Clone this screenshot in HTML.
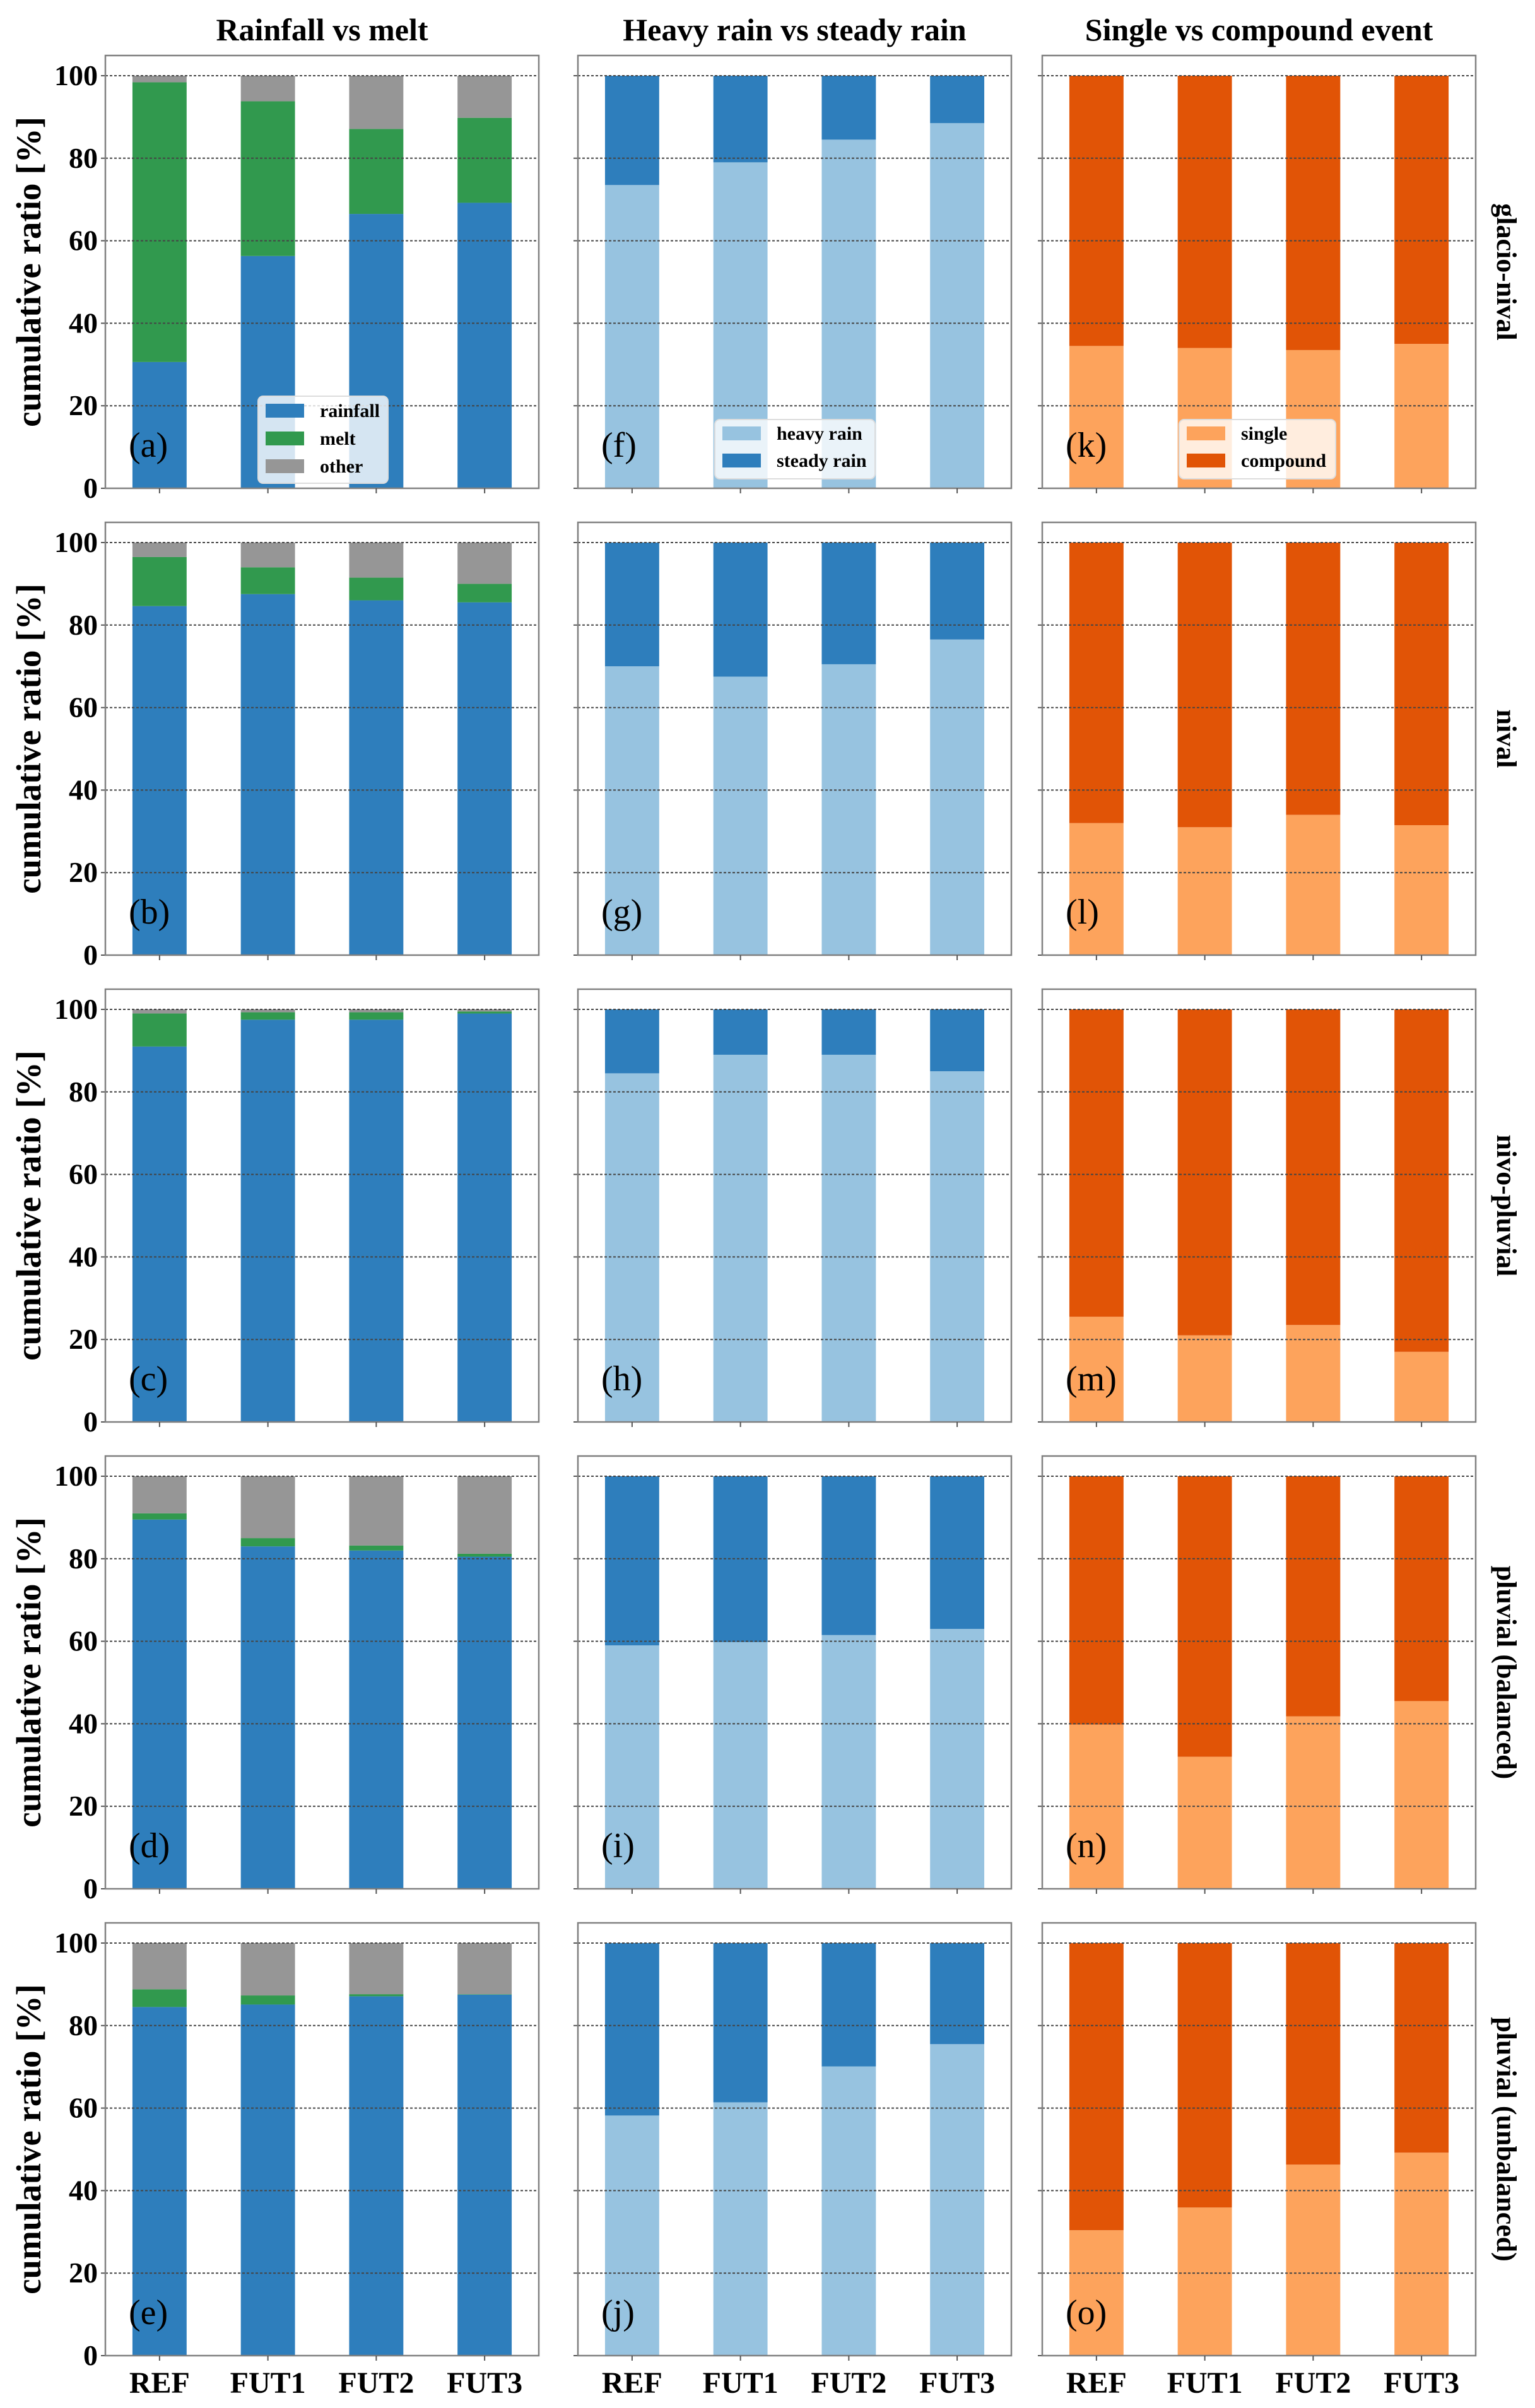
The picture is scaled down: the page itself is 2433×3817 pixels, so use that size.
<!DOCTYPE html>
<html><head><meta charset="utf-8">
<style>
html,body{margin:0;padding:0;background:#fff;}
svg{display:block;}
text{font-family:"Liberation Serif","DejaVu Serif",serif;}
</style></head>
<body>
<svg id="fig" xmlns="http://www.w3.org/2000/svg" width="2433" height="3817" viewBox="0 0 2433 3817" font-family="'Liberation Serif', 'DejaVu Serif', serif"></svg>
<script>
const categories = ["REF","FUT1","FUT2","FUT3"];
const yTicks = [0,20,40,60,80,100];
const columnTitles = ["Rainfall vs melt","Heavy rain vs steady rain","Single vs compound event"];
const rowLabels = ["glacio-nival","nival","nivo-pluvial","pluvial (balanced)","pluvial (unbalanced)"];
const panelLetters = [["(a)","(f)","(k)"],["(b)","(g)","(l)"],["(c)","(h)","(m)"],["(d)","(i)","(n)"],["(e)","(j)","(o)"]];
// column 1: rainfall share and rainfall+melt cumulative share
const rainfall = [[30.6,56.3,66.5,69.2],[84.6,87.5,86.0,85.5],[91.0,97.5,97.5,99.0],[89.5,83.0,82.0,80.5],[84.5,85.1,87.1,87.5]];
const rainMelt = [[98.4,93.8,87.1,89.8],[96.5,94.0,91.5,90.0],[99.0,99.3,99.3,99.5],[91.0,85.0,83.2,81.2],[88.8,87.3,87.6,87.6]];
// column 2: heavy rain share
const heavyRain = [[73.5,79.0,84.5,88.5],[70.0,67.5,70.5,76.5],[84.5,89.0,89.0,85.0],[59.0,59.8,61.5,63.0],[58.2,61.4,70.1,75.5]];
// column 3: single event share
const singleEvt = [[34.5,34.0,33.5,35.0],[32.0,31.0,34.0,31.5],[25.5,21.0,23.5,17.0],[39.8,32.0,41.8,45.5],[30.4,35.9,46.3,49.2]];

const C = {rain:"#2e7ebc",melt:"#31994e",other:"#969696",heavy:"#97c3e0",steady:"#2e7ebc",single:"#fda35c",compound:"#e15406"};
const colL=[167,916,1652], W=687;
const rowTop0=88, rowStep=740, y100off=32, yspan=654;
const NS="http://www.w3.org/2000/svg";
const FONT="'Liberation Serif', 'DejaVu Serif', serif";
const svg=document.getElementById('fig');
function mk(tag,attrs,parent){const e=document.createElementNS(NS,tag);for(const k in attrs)e.setAttribute(k,attrs[k]);if(tag==='text')e.setAttribute('font-family',FONT);(parent||svg).appendChild(e);return e;}

for(let r=0;r<5;r++){
  const y0=rowTop0+r*rowStep+y100off+yspan;
  const ys=v=>y0-v/100*yspan;
  for(let c=0;c<3;c++){
    const L=colL[c];
    const xs=i=>L+(i+0.5)*(W/4);
    const bw=0.5*W/4;
    const g=mk('g',{});
    
    
    categories.forEach((cat,i)=>{
      let segs;
      if(c===0) segs=[[0,rainfall[r][i],C.rain,'rainfall'],[rainfall[r][i],rainMelt[r][i],C.melt,'melt'],[rainMelt[r][i],100,C.other,'other']];
      else if(c===1) segs=[[0,heavyRain[r][i],C.heavy,'heavy-rain'],[heavyRain[r][i],100,C.steady,'steady-rain']];
      else segs=[[0,singleEvt[r][i],C.single,'single'],[singleEvt[r][i],100,C.compound,'compound']];
      segs.forEach(s=>{
        const rc=mk('rect',{x:xs(i)-bw/2,y:ys(s[1]),width:bw,height:Math.max(0,ys(s[0])-ys(s[1])),fill:s[2]},g);
        
        
      });
    });
    yTicks.forEach(t=>{
      const ln=mk('line',{x1:L,x2:L+W,y1:ys(t),y2:ys(t),stroke:'#444','stroke-width':2,'stroke-dasharray':'4,3'},g);
      
      
      mk('line',{x1:L-7,x2:L,y1:ys(t),y2:ys(t),stroke:'#555','stroke-width':2},g);
      if(c===0){
        const tx=mk('text',{x:L-12,y:ys(t)+15,'text-anchor':'end','font-size':46,'font-weight':'bold',fill:'#000'},g);
        tx.textContent=t;
        
        
      }
    });
    const fr=mk('rect',{x:L,y:rowTop0+r*rowStep,width:W,height:y100off+yspan,fill:'none',stroke:'#808080','stroke-width':2.5},g);
    
    
    categories.forEach((cat,i)=>{
      mk('line',{x1:xs(i),x2:xs(i),y1:y0,y2:y0+8,stroke:'#555','stroke-width':2},g);
      if(r===4){
        const tx=mk('text',{x:xs(i),y:3793,'text-anchor':'middle','font-size':48,'font-weight':'bold',fill:'#000'},g);
        tx.textContent=cat;
        
        
      }
    });
    const pl=mk('text',{x:L+37,y:y0-50,'font-size':56,fill:'#000'},g);
    pl.textContent=panelLetters[r][c];
    
    
  }
  const yc=rowTop0+r*rowStep+(y100off+yspan)/2;
  const yl=mk('text',{x:0,y:0,transform:`translate(64,${yc}) rotate(-90)`,'text-anchor':'middle','font-size':55,'font-weight':'bold',fill:'#000'});
  yl.textContent='cumulative ratio [%]';
  
  
  const rl=mk('text',{x:0,y:0,transform:`translate(2373,${yc}) rotate(90)`,'text-anchor':'middle','font-size':44,'font-weight':'bold',fill:'#000'});
  rl.textContent=rowLabels[r];
  
  
}
columnTitles.forEach((t,c)=>{
  const tx=mk('text',{x:colL[c]+W/2,y:64,'text-anchor':'middle','font-size':50,'font-weight':'bold',fill:'#000'});
  tx.textContent=t;
  
  
});
function legend(x,y,w,h,items,name){
  const g=mk('g',{});
  
  
  mk('rect',{x:x,y:y,width:w,height:h,rx:8,fill:'#fff','fill-opacity':0.8,stroke:'#ddd','stroke-width':2},g);
  const step=items.length===3?44:43;
  const first=items.length===3?y+23:y+22;
  items.forEach((it,k)=>{
    const cy=first+k*step;
    const p=mk('rect',{x:x+12,y:cy-11,width:61,height:22,fill:it[1]},g);
    
    
    const t=mk('text',{x:x+98,y:cy+10,'font-size':30,'font-weight':'bold',fill:'#000'},g);
    t.textContent=it[0];
    
    
  });
}
legend(409,628,206,138,[["rainfall",C.rain],["melt",C.melt],["other",C.other]],'legend-rainfall-melt');
legend(1133,665,254,94,[["heavy rain",C.heavy],["steady rain",C.steady]],'legend-heavy-steady');
legend(1869,665,248,94,[["single",C.single],["compound",C.compound]],'legend-single-compound');
</script>
</body></html>
